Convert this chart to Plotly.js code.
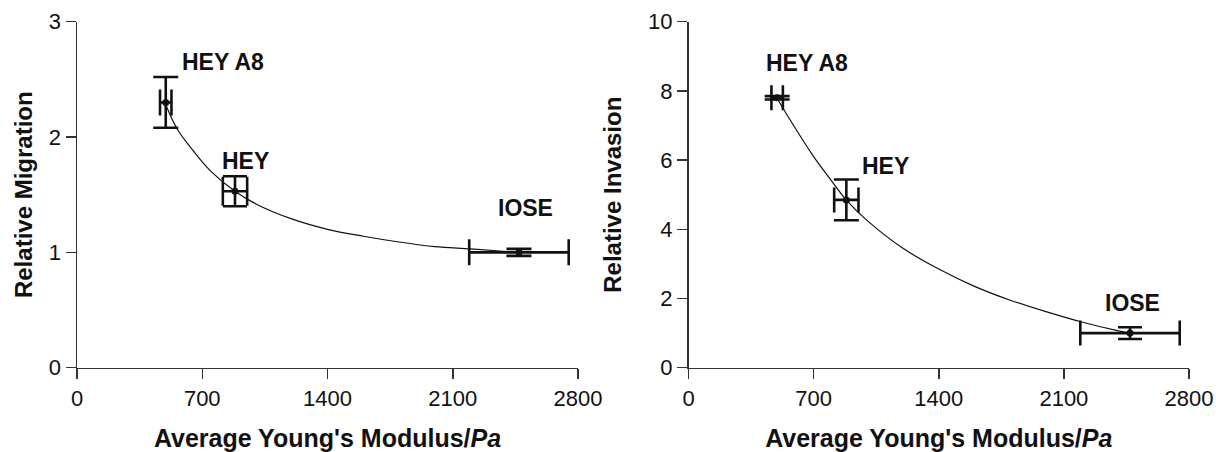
<!DOCTYPE html>
<html>
<head>
<meta charset="utf-8">
<script src="https://cdn.plot.ly/plotly-3.0.1.min.js"></script>
<style>html,body{margin:0;padding:0;background:#fff;}#chart{width:1216px;height:452px;}</style>
</head>
<body>
<div id="chart"></div>
<script>
// Cell lines
const cellLines = ["HEY A8", "HEY", "IOSE"];
// Average Young's modulus (Pa) and its error
const modulus = [496, 883, 2470];
const modulusErr = [32, 68, 278];
// Left panel: relative migration
const migration = [2.30, 1.53, 1.00];
const migrationErr = [0.22, 0.13, 0.03];
// Right panel: relative invasion
const invasion = [7.80, 4.85, 1.00];
const invasionErr = [0.05, 0.59, 0.17];
// Fitted curves
const migFitX = [496, 560, 650, 750, 883, 1000, 1200, 1400, 1600, 1800, 2000, 2200, 2470];
const migFitY = [2.28, 2.07, 1.88, 1.70, 1.53, 1.42, 1.29, 1.20, 1.14, 1.09, 1.05, 1.03, 1.00];
const invFitX = [499, 600, 700, 800, 882, 1000, 1200, 1400, 1600, 1800, 2000, 2200, 2400, 2472];
const invFitY = [7.75, 6.90, 6.10, 5.40, 4.85, 4.25, 3.45, 2.85, 2.35, 1.95, 1.62, 1.32, 1.07, 1.00];
// Axis ticks
const xTicks = [0, 700, 1400, 2100, 2800];
const migTicks = [0, 1, 2, 3];
const invTicks = [0, 2, 4, 6, 8, 10];

const FONT = "Liberation Sans, Arial, Helvetica, sans-serif";
const INK = "#111";

// per-point cap half-lengths (px) as seen in the picture
const migCapX = [13, 14.5, 13];
const migCapY = [12.5, 12, 12.5];
const invCapX = [12.5, 12.5, 12.5];
const invCapY = [12.5, 12.5, 12];

function errTraces(xa, ya, yv, ye, capX, capY) {
  return cellLines.map((name, i) => ({
    type: "scatter", mode: "markers", name: name,
    x: [modulus[i]], y: [yv[i]], xaxis: xa, yaxis: ya,
    marker: {color: INK, size: 7},
    error_x: {type: "data", array: [modulusErr[i]], visible: true, color: INK, thickness: 2.6, width: capX[i]},
    error_y: {type: "data", array: [ye[i]], visible: true, color: INK, thickness: 2.6, width: capY[i]},
    showlegend: false, cliponaxis: false
  }));
}

const traces = [
  {type: "scatter", mode: "lines", x: migFitX, y: migFitY, xaxis: "x", yaxis: "y",
   line: {color: INK, width: 1.2, shape: "spline"}, showlegend: false, hoverinfo: "skip"},
  {type: "scatter", mode: "lines", x: invFitX, y: invFitY, xaxis: "x2", yaxis: "y2",
   line: {color: INK, width: 1.2, shape: "spline"}, showlegend: false, hoverinfo: "skip"},
  ...errTraces("x", "y", migration, migrationErr, migCapX, migCapY),
  ...errTraces("x2", "y2", invasion, invasionErr, invCapX, invCapY)
];

const axisCommon = {
  showline: true, linecolor: "#333", linewidth: 1.5, ticks: "outside", ticklen: 10,
  tickwidth: 1.5, tickcolor: "#333", showgrid: false, zeroline: false,
  tickfont: {family: FONT, size: 22, color: "#111"}, fixedrange: true
};
const titleFont = {family: FONT, size: 24, color: "#111", weight: "bold"};
const xTitleFont = {family: FONT, size: 25, color: "#111", weight: "bold"};
const xTitle = "<b>Average Young's Modulus/<i>Pa</i></b>";

const yTop = 1 - 21.7 / 452, yBot = 1 - 367.7 / 452;

const layout = {
  width: 1216, height: 452,
  margin: {l: 0, r: 0, t: 0, b: 0},
  paper_bgcolor: "#fff", plot_bgcolor: "#fff",
  font: {family: FONT, color: "#111"},
  showlegend: false,
  xaxis: Object.assign({}, axisCommon, {domain: [77 / 1216, 578 / 1216], range: [0, 2800],
    tickvals: xTicks, ticktext: xTicks.map(String), anchor: "y",
    title: {text: xTitle, font: xTitleFont}}),
  yaxis: Object.assign({}, axisCommon, {domain: [yBot, yTop], range: [0, 3],
    tickvals: migTicks, ticktext: migTicks.map(String), anchor: "x",
    title: {text: "<b>Relative Migration</b>", font: titleFont, standoff: 9}}),
  xaxis2: Object.assign({}, axisCommon, {domain: [688.5 / 1216, 1189 / 1216], range: [0, 2800],
    tickvals: xTicks, ticktext: xTicks.map(String), anchor: "y2",
    title: {text: xTitle, font: xTitleFont}}),
  yaxis2: Object.assign({}, axisCommon, {domain: [yBot, yTop], range: [0, 10],
    tickvals: invTicks, ticktext: invTicks.map(String), anchor: "x2",
    title: {text: "<b>Relative Invasion</b>", font: titleFont, standoff: 19}}),
  annotations: [
    {xref: "x", yref: "y", x: 576, y: 2.647, text: "<b>" + cellLines[0] + "</b>"},
    {xref: "x", yref: "y", x: 799, y: 1.793, text: "<b>" + cellLines[1] + "</b>"},
    {xref: "x", yref: "y", x: 2342, y: 1.381, text: "<b>" + cellLines[2] + "</b>"},
    {xref: "x2", yref: "y2", x: 423, y: 8.80, text: "<b>" + cellLines[0] + "</b>"},
    {xref: "x2", yref: "y2", x: 960, y: 5.84, text: "<b>" + cellLines[1] + "</b>"},
    {xref: "x2", yref: "y2", x: 2319, y: 1.86, text: "<b>" + cellLines[2] + "</b>"}
  ].map(a => Object.assign(a, {showarrow: false, xanchor: "left", yanchor: "middle",
    font: {family: FONT, size: 23, color: "#111"}}))
};

Plotly.newPlot("chart", traces, layout, {displayModeBar: false, staticPlot: true});
</script>
</body>
</html>
